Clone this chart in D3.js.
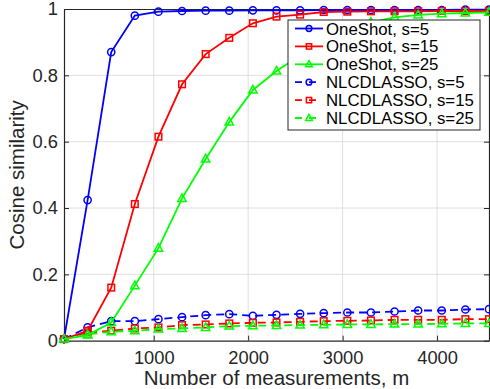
<!DOCTYPE html>
<html><head><meta charset="utf-8">
<script src="https://cdn.jsdelivr.net/npm/d3@7"></script>
<style>body{margin:0;background:#fff}svg{display:block;font-family:"Liberation Sans",Arial,sans-serif}</style>
</head><body><svg id="c" width="490" height="389"></svg>
<script>
const mValues = [50,300,550,800,1050,1300,1550,1800,2050,2300,2550,2800,3050,3300,3550,3800,4050,4300,4550];
const oneShotS5  = [0.005,0.424,0.870,0.980,0.992,0.994,0.995,0.995,0.996,0.996,0.996,0.997,0.997,0.997,0.997,0.997,0.997,0.998,0.998];
const oneShotS15 = [0.005,0.030,0.160,0.412,0.615,0.773,0.864,0.913,0.957,0.977,0.983,0.991,0.992,0.993,0.993,0.993,0.994,0.994,0.994];
const oneShotS25 = [0.005,0.017,0.055,0.166,0.279,0.429,0.548,0.659,0.756,0.813,0.860,0.905,0.940,0.960,0.975,0.982,0.986,0.988,0.990];
const nlcdS5  = [0.005,0.040,0.059,0.059,0.065,0.071,0.077,0.080,0.075,0.078,0.081,0.083,0.085,0.085,0.088,0.091,0.091,0.094,0.095];
const nlcdS15 = [0.005,0.025,0.030,0.037,0.040,0.047,0.049,0.052,0.054,0.055,0.057,0.059,0.060,0.061,0.063,0.063,0.063,0.065,0.065];
const nlcdS25 = [0.005,0.019,0.027,0.030,0.035,0.037,0.040,0.044,0.045,0.046,0.047,0.048,0.049,0.049,0.050,0.050,0.051,0.052,0.052];
const seriesNames = ["OneShot, s=5","OneShot, s=15","OneShot, s=25","NLCDLASSO, s=5","NLCDLASSO, s=15","NLCDLASSO, s=25"];
const xTicks = [1000,2000,3000,4000];
const yTicks = [0,0.2,0.4,0.6,0.8,1];

const series = [
  {name:seriesNames[0], v:oneShotS5,  c:"#0000ff", m:"circle",  dash:null},
  {name:seriesNames[1], v:oneShotS15, c:"#ff0000", m:"square",  dash:null},
  {name:seriesNames[2], v:oneShotS25, c:"#00ff00", m:"triangle",dash:null},
  {name:seriesNames[3], v:nlcdS5,  c:"#0000ff", m:"circle",  dash:"8,5"},
  {name:seriesNames[4], v:nlcdS15, c:"#ff0000", m:"square",  dash:"8,5"},
  {name:seriesNames[5], v:nlcdS25, c:"#00ff00", m:"triangle",dash:"8,5"}
];

const L=64,R=489,T=9,B=340.7;
const svg=d3.select("#c");
const x=d3.scaleLinear().domain([50,4550]).range([L,R]);
const y=d3.scaleLinear().domain([0,1]).range([B,T]);
const axc="#262626";

// grid
const g=svg.append("g");
g.selectAll(".gx").data(xTicks).enter().append("line")
 .attr("x1",d=>x(d)).attr("x2",d=>x(d)).attr("y1",T).attr("y2",B).attr("stroke","#dfdfdf").attr("stroke-width",1);
g.selectAll(".gy").data(yTicks.slice(1,-1)).enter().append("line")
 .attr("y1",d=>y(d)).attr("y2",d=>y(d)).attr("x1",L).attr("x2",R).attr("stroke","#dfdfdf").attr("stroke-width",1);

// axes
const tl=5;
const xa=svg.append("g").attr("transform",`translate(0,${B})`)
 .call(d3.axisBottom(x).tickValues(xTicks).tickSize(-tl).tickPadding(10).tickFormat(d3.format("d")).tickSizeOuter(0));
const xt=svg.append("g").attr("transform",`translate(0,${T})`)
 .call(d3.axisTop(x).tickValues(xTicks).tickSize(-tl).tickFormat("").tickSizeOuter(0));
const ya=svg.append("g").attr("transform",`translate(${L},0)`)
 .call(d3.axisLeft(y).tickValues(yTicks).tickSize(-tl).tickPadding(6).tickFormat(d=>d===0?"0":d===1?"1":d3.format(".1f")(d)).tickSizeOuter(0));
const yr=svg.append("g").attr("transform",`translate(${R},0)`)
 .call(d3.axisRight(y).tickValues(yTicks).tickSize(-tl).tickFormat("").tickSizeOuter(0));
[xa,xt,ya,yr].forEach(a=>{a.select(".domain").attr("stroke",axc).attr("stroke-width",1.2);a.selectAll(".tick line").attr("stroke",axc);});
[xa,ya].forEach(a=>a.selectAll(".tick text").attr("fill",axc).style("font-size","18.3px").style("font-family","'Liberation Sans',Arial,sans-serif"));

// labels
svg.append("text").attr("x",(L+R)/2).attr("y",384.5).attr("text-anchor","middle").attr("fill",axc)
 .style("font-size","20.5px").text("Number of measurements, m");
svg.append("text").attr("transform",`translate(24,${(T+B)/2}) rotate(-90)`).attr("text-anchor","middle").attr("fill",axc)
 .style("font-size","20.5px").text("Cosine similarity");

function marker(sel,type,c,sc){
  sc=sc||1;
  if(type==="circle") sel.append("circle").attr("r",3.6*sc).attr("fill","none").attr("stroke",c).attr("stroke-width",1.5);
  else if(type==="square") sel.append("rect").attr("x",-3.3*sc).attr("y",-3.3*sc).attr("width",6.6*sc).attr("height",6.6*sc).attr("fill","none").attr("stroke",c).attr("stroke-width",1.5);
  else sel.append("path").attr("d",`M0,${-4.6*sc}L${4.2*sc},${3*sc}L${-4.2*sc},${3*sc}Z`).attr("fill","none").attr("stroke",c).attr("stroke-width",1.5);
}

const plot=svg.append("g");
const line=d3.line().x((d,i)=>x(mValues[i])).y(d=>y(d));
[3,4,5,0,1,2].forEach(k=>{
  const s=series[k];
  plot.append("path").attr("d",line(s.v)).attr("fill","none").attr("stroke",s.c).attr("stroke-width",1.8)
   .attr("stroke-dasharray",s.dash);
  s.v.forEach((v,i)=>{
    const gm=plot.append("g").attr("transform",`translate(${x(mValues[i])},${y(v)})`);
    marker(gm,s.m,s.c);
  });
});

// legend
const lx=288,ly=20,lw=192,lh=110;
const lg=svg.append("g");
lg.append("rect").attr("x",lx).attr("y",ly).attr("width",lw).attr("height",lh).attr("fill","#fff").attr("stroke",axc).attr("stroke-width",1);
series.forEach((s,i)=>{
  const cy=28.5+i*17.9;
  lg.append("line").attr("x1",295).attr("x2",323).attr("y1",cy).attr("y2",cy).attr("stroke",s.c).attr("stroke-width",1.8)
   .attr("stroke-dasharray",s.dash?"7,7":null);
  const gm=lg.append("g").attr("transform",`translate(309,${cy})`);
  marker(gm,s.m,s.c,0.8);
  lg.append("text").attr("x",326).attr("y",cy+6).attr("fill","#000").style("font-size","16.8px").text(s.name);
});
</script></body></html>
